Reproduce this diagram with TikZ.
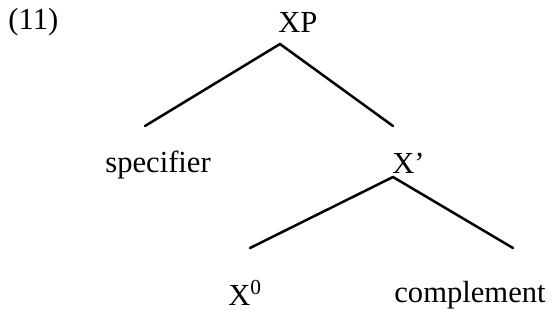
\documentclass[tikz,border=0pt]{standalone}
\usepackage{fontspec}
\setmainfont{Liberation Serif}
\usepackage{tikz}

\begin{document}
\begin{tikzpicture}[x=0.5pt, y=-0.5pt,
		lbl/.style={inner sep=0pt, anchor=base west, font=\fontsize{15.3}{18}\selectfont},
		branch/.style={black, line width=1.25pt, line cap=round, line join=round}]

		% --- Frame ---
		\useasboundingbox (0,0) rectangle (554,333);

		% --- Labels ---
		\node[lbl] (num)  at (8, 29)    {(11)};
		\node[lbl] (XP)   at (278, 32)  {XP};
		\node[lbl] (spec) at (105, 172) {specifier};
		\node[lbl] (Xbar) at (392, 173) {X’};
		\node[lbl] (X0)   at (228, 305) {X\textsuperscript{0}};
		\node[lbl] (comp) at (394, 302) {complement};

		% --- Branch points ---
		\coordinate (xp-top)    at (280, 44);
		\coordinate (xp-left)   at (145, 126);
		\coordinate (xp-right)  at (393, 126);
		\coordinate (xb-top)    at (393, 177);
		\coordinate (xb-left)   at (250, 248);
		\coordinate (xb-right)  at (513, 248);

		% --- Branches ---
		\draw[branch] (xp-left) -- (xp-top) -- (xp-right);
		\draw[branch] (xb-left) -- (xb-top) -- (xb-right);
	\end{tikzpicture}
\end{document}
